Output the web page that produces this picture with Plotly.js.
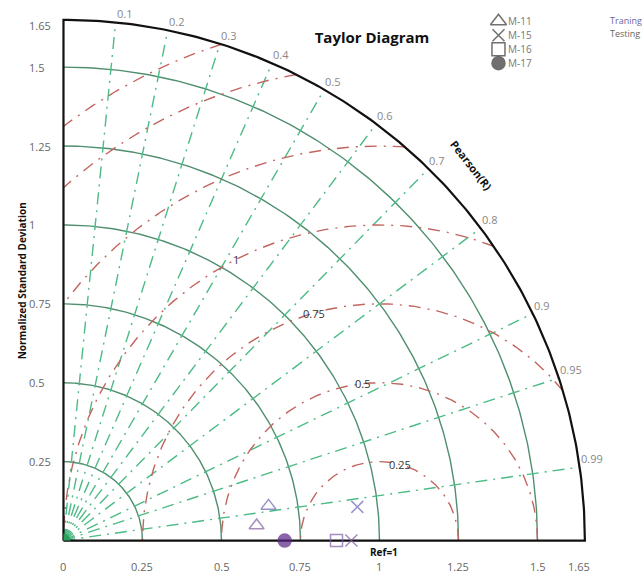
<!DOCTYPE html>
<html><head><meta charset="utf-8">
<script src="https://cdn.plot.ly/plotly-3.0.1.min.js"></script>
<style>html,body{margin:0;padding:0;background:#fff}</style>
</head><body><div id="chart" style="width:643px;height:575px"></div>
<script>
// ---------------- data ----------------
const pointModel = ['M-11', 'M-15', 'M-11', 'M-15', 'M-16', 'M-17'];
const pointPhase = ['Traning', 'Traning', 'Testing', 'Testing', 'Testing', 'Testing'];
const pointStd   = [0.658, 0.936, 0.613, 0.911, 0.864, 0.700];
const pointCorr  = [0.986, 0.9935, 0.997, 1.000, 1.000, 1.000];

const legendModels = ['M-11', 'M-15', 'M-16', 'M-17'];
const phaseNames = ['Traning', 'Testing'];

const stdArcs   = [0.25, 0.5, 0.75, 1.0, 1.25, 1.5];
const maxStd    = 1.65;
const corrLines = [0.1, 0.2, 0.3, 0.4, 0.5, 0.6, 0.7, 0.8, 0.9, 0.95, 0.99];
const rmsArcs   = [0.25, 0.5, 0.75, 1.0, 1.25, 1.5, 1.65];
const rmsLabels = [0.25, 0.5, 0.75, 1];
const rmsLabelText = ['0.25', '0.5', '0.75', '1'];
const rmsLabelAngle = [75, 96, 106, 117];
const refStd = 1.0;

const xTickVals = [0, 0.25, 0.5, 0.75, 1, 1.25, 1.5, 1.65];
const xTickText = ['0', '0.25', '0.5', '0.75', '1', '1.25', '1.5', '1.65'];
const yTickVals = [0.25, 0.5, 0.75, 1, 1.25, 1.5, 1.65];
const yTickText = ['0.25', '0.5', '0.75', '1', '1.25', '1.5', '1.65'];

// ---------------- styles ----------------
const FONT = 'Open Sans, Noto Sans, sans-serif';
const modelSymbol = {'M-11': 'triangle-up-open', 'M-15': 'x-thin-open', 'M-16': 'square-open', 'M-17': 'circle'};
const modelSize = {'M-11': 13, 'M-15': 12, 'M-16': 12, 'M-17': 13};
const phaseColor = {'Traning': '#6b64b2', 'Testing': '#7d5f9f'};
const circleColor = '#5a2386';

// geometry of the page
const W = 643, H = 575, S = 316, OX = 63, OY = 541;
const xr = [-0.03, 1.72], yr = [-0.03, 1.70];
const mL = OX + xr[0] * S, plotW = (xr[1] - xr[0]) * S, mR = W - mL - plotW;
const bottomPx = OY - yr[0] * S, plotH = (yr[1] - yr[0]) * S;
const mB = H - bottomPx, mT = H - mB - plotH;
const deg = Math.PI / 180;
const px = v => (v - mL) / plotW;          // pixel -> paper x
const py = v => (bottomPx - v) / plotH;    // pixel -> paper y

const traces = [];

// solid std-dev arcs
(function () {
  const xs = [], ys = [];
  stdArcs.forEach(r => {
    for (let i = 0; i <= 180; i++) { const t = i / 180 * Math.PI / 2; xs.push(r * Math.cos(t)); ys.push(r * Math.sin(t)); }
    xs.push(null); ys.push(null);
  });
  traces.push({x: xs, y: ys, mode: 'lines', line: {color: '#4f8f6f', width: 1.4}, hoverinfo: 'skip', showlegend: false});
})();

// correlation radial lines
corrLines.forEach(c => {
  const s = Math.sqrt(1 - c * c);
  traces.push({x: [0, maxStd * c], y: [0, maxStd * s], mode: 'lines',
    line: {color: '#4cbb85', width: 1.4, dash: '12px,6px,2px,6px'}, hoverinfo: 'skip', showlegend: false});
});

// RMS arcs centred on reference
rmsArcs.forEach(R => {
  let p0 = 0, p1 = Math.PI;
  if (refStd + R > maxStd) {
    const xi = (refStd * refStd + maxStd * maxStd - R * R) / (2 * refStd);
    p0 = Math.acos((xi - refStd) / R);
  }
  if (R > refStd) p1 = Math.acos(-refStd / R);
  const xs = [], ys = [];
  for (let i = 0; i <= 200; i++) { const p = p0 + (p1 - p0) * i / 200; xs.push(refStd + R * Math.cos(p)); ys.push(R * Math.sin(p)); }
  traces.push({x: xs, y: ys, mode: 'lines', line: {color: '#c2655f', width: 1.4, dash: '12px,7px,2px,7px'}, hoverinfo: 'skip', showlegend: false});
});

// outer arc and axes
(function () {
  const ax = [0, 0], ay = [0, maxStd];
  for (let i = 0; i <= 200; i++) { const t = Math.PI / 2 - i / 200 * Math.PI / 2; ax.push(maxStd * Math.cos(t)); ay.push(maxStd * Math.sin(t)); }
  ax.push(0); ay.push(0);
  traces.push({x: ax, y: ay, mode: 'lines', line: {color: '#111', width: 2.2}, hoverinfo: 'skip', showlegend: false});
})();

// origin blob
(function () {
  const xs = [0], ys = [0];
  for (let i = 0; i <= 20; i++) { const t = i / 20 * Math.PI / 2; xs.push(0.022 * Math.cos(t)); ys.push(0.022 * Math.sin(t)); }
  xs.push(0); ys.push(0);
  traces.push({x: xs, y: ys, mode: 'lines', fill: 'toself', fillcolor: '#2aa05a', line: {color: '#2aa05a', width: 0}, hoverinfo: 'skip', showlegend: false});
})();

// data points
(function () {
  const xs = [], ys = [], sym = [], col = [], size = [];
  pointStd.forEach((s, i) => {
    const c = pointCorr[i];
    xs.push(s * c); ys.push(s * Math.sqrt(Math.max(0, 1 - c * c)));
    const m = pointModel[i];
    sym.push(modelSymbol[m]); size.push(modelSize[m]);
    col.push(m === 'M-17' ? circleColor : phaseColor[pointPhase[i]]);
  });
  traces.push({x: xs, y: ys, mode: 'markers', cliponaxis: false,
    marker: {symbol: sym, size: size, color: col, line: {color: col, width: 1.5}},
    text: pointModel, showlegend: false});
})();

// legend markers (overlay pixel axes)
const legendY = [21, 35, 49, 63];
traces.push({x: legendModels.map(() => 498), y: legendY, xaxis: 'x2', yaxis: 'y2', mode: 'markers', cliponaxis: false,
  marker: {symbol: legendModels.map(m => modelSymbol[m]), size: [14, 12, 13, 13], color: '#333', line: {color: '#333', width: 1.5}},
  hoverinfo: 'skip', showlegend: false});

const ann = [];
// y axis title
ann.push({text: '<b>Normalized Standard Deviation</b>', xref: 'paper', yref: 'paper', x: px(21), y: py(281), textangle: -90,
  xanchor: 'center', yanchor: 'middle', showarrow: false, font: {family: FONT, size: 10, color: '#111'}});
// x tick labels
xTickVals.forEach((v, i) => ann.push({text: xTickText[i], xref: 'x', yref: 'paper', x: v, y: py(567), showarrow: false,
  xanchor: 'center', yanchor: 'middle', borderpad: 0, xshift: v === maxStd ? -6 : 0, font: {family: FONT, size: 11, color: '#666'}}));
// y tick labels
yTickVals.forEach((v, i) => ann.push({text: yTickText[i], xref: 'paper', yref: 'y', x: px(27), y: v, xanchor: 'left', yanchor: 'middle',
  showarrow: false, yshift: v === maxStd ? -6 : 0, font: {family: FONT, size: 11, color: '#666'}}));
// correlation labels
corrLines.forEach(c => ann.push({text: String(c), xref: 'x', yref: 'y', x: maxStd * c, y: maxStd * Math.sqrt(1 - c * c),
  xanchor: 'left', yanchor: 'bottom', showarrow: false, xshift: -1, yshift: -1, font: {family: FONT, size: 11, color: '#888'}}));
// rms labels
rmsLabels.forEach((R, i) => ann.push({text: rmsLabelText[i], xref: 'x', yref: 'y',
  x: refStd + R * Math.cos(rmsLabelAngle[i] * deg), y: R * Math.sin(rmsLabelAngle[i] * deg),
  xanchor: 'center', yanchor: 'middle', showarrow: false, font: {family: FONT, size: 11, color: '#333'}}));
// Pearson label, Ref label
ann.push({text: '<b>Pearson(R)</b>', xref: 'paper', yref: 'paper', x: px(471), y: py(166), textangle: 52, showarrow: false,
  xanchor: 'center', yanchor: 'middle', font: {family: FONT, size: 11, color: '#111'}});
ann.push({text: '<b>Ref=1</b>', xref: 'paper', yref: 'paper', x: px(384), y: py(552), showarrow: false, borderpad: 0,
  xanchor: 'center', yanchor: 'middle', font: {family: FONT, size: 10, color: '#111'}});
// legend texts
legendModels.forEach((m, i) => ann.push({text: m, xref: 'paper', yref: 'paper', x: px(507), y: py(legendY[i]), xanchor: 'left',
  yanchor: 'middle', borderpad: 0, showarrow: false, font: {family: FONT, size: 10, color: '#777'}}));
phaseNames.forEach((p, i) => ann.push({text: p, xref: 'paper', yref: 'paper', x: px(609), y: py([20, 33][i]), xanchor: 'left',
  yanchor: 'middle', borderpad: 0, showarrow: false, font: {family: FONT, size: 9, color: i === 0 ? '#6a669c' : '#666'}}));

const hidden = {showgrid: false, zeroline: false, showticklabels: false, showline: false, ticks: '', fixedrange: true, automargin: false};
const layout = {
  width: W, height: H,
  margin: {l: mL, r: mR, t: mT, b: mB, pad: 0},
  paper_bgcolor: '#fff', plot_bgcolor: '#fff',
  title: {text: '<b>Taylor Diagram</b>', font: {family: FONT, size: 15, color: '#111'},
    x: 372 / W, xref: 'container', xanchor: 'center', y: 1 - 38 / H, yref: 'container', yanchor: 'middle'},
  xaxis: Object.assign({range: xr}, hidden),
  yaxis: Object.assign({range: yr}, hidden),
  xaxis2: Object.assign({range: [mL, mL + plotW], overlaying: 'x', anchor: 'y2', visible: false}, hidden),
  yaxis2: Object.assign({range: [bottomPx, bottomPx - plotH], overlaying: 'y', anchor: 'x2', visible: false}, hidden),
  showlegend: false,
  annotations: ann,
  font: {family: FONT}
};
Plotly.newPlot('chart', traces, layout, {displayModeBar: false, staticPlot: true});
</script></body></html>
